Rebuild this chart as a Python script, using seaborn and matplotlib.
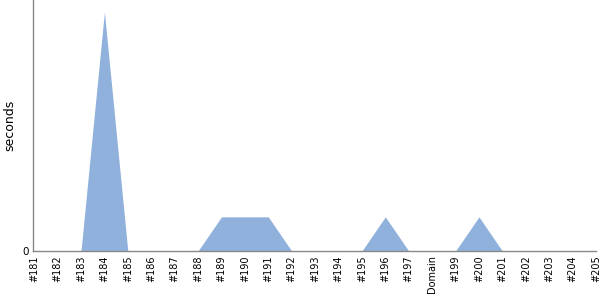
import matplotlib
matplotlib.use("Agg")
import matplotlib.pyplot as plt
import seaborn as sns
import numpy as np
import pandas as pd

categories = ["#181", "#182", "#183", "#184", "#185", "#186", "#187", "#188",
              "#189", "#190", "#191", "#192", "#193", "#194", "#195", "#196",
              "#197", "Domain", "#199", "#200", "#201", "#202", "#203", "#204", "#205"]
seconds = [0, 0, 0, 7, 0, 0, 0, 0,
           1, 1, 1, 0, 0, 0, 0, 1,
           0, 0, 0, 1, 0, 0, 0, 0, 0]

df = pd.DataFrame({"build": categories, "seconds": seconds})
df["pos"] = np.arange(len(df))

sns.set_theme(style="white")
plt.rcParams['font.family'] = ['DejaVu Sans']

fig = plt.figure(figsize=(6, 3), dpi=100)
ax = fig.add_axes([33/600, 49/300, (596-33)/600, 251/300])

sns.lineplot(data=df, x="pos", y="seconds", ax=ax, color="#8fb1dc", linewidth=0)
ax.fill_between(df["pos"], 0, df["seconds"], color="#8fb1dc", linewidth=0)

ax.set_xlim(-0.05, len(df) - 1)
ax.set_ylim(0, max(seconds) * 1.05)
ax.set_xticks(df["pos"])
ax.set_xticklabels(categories, rotation=90, fontsize=7, color="black")
ax.set_yticks([0])
ax.set_yticklabels(["0"], fontsize=7.5, color="black")
ax.tick_params(axis="both", length=0, pad=3)
ax.set_xlabel("")
ax.set_ylabel("seconds", fontsize=9, color="black")
ax.yaxis.set_label_coords(-0.029, 0.5)

for s in ["top", "right"]:
    ax.spines[s].set_visible(False)
for s in ["left", "bottom"]:
    ax.spines[s].set_color("#888888")
    ax.spines[s].set_linewidth(1)

fig.savefig("out.png", dpi=100)
